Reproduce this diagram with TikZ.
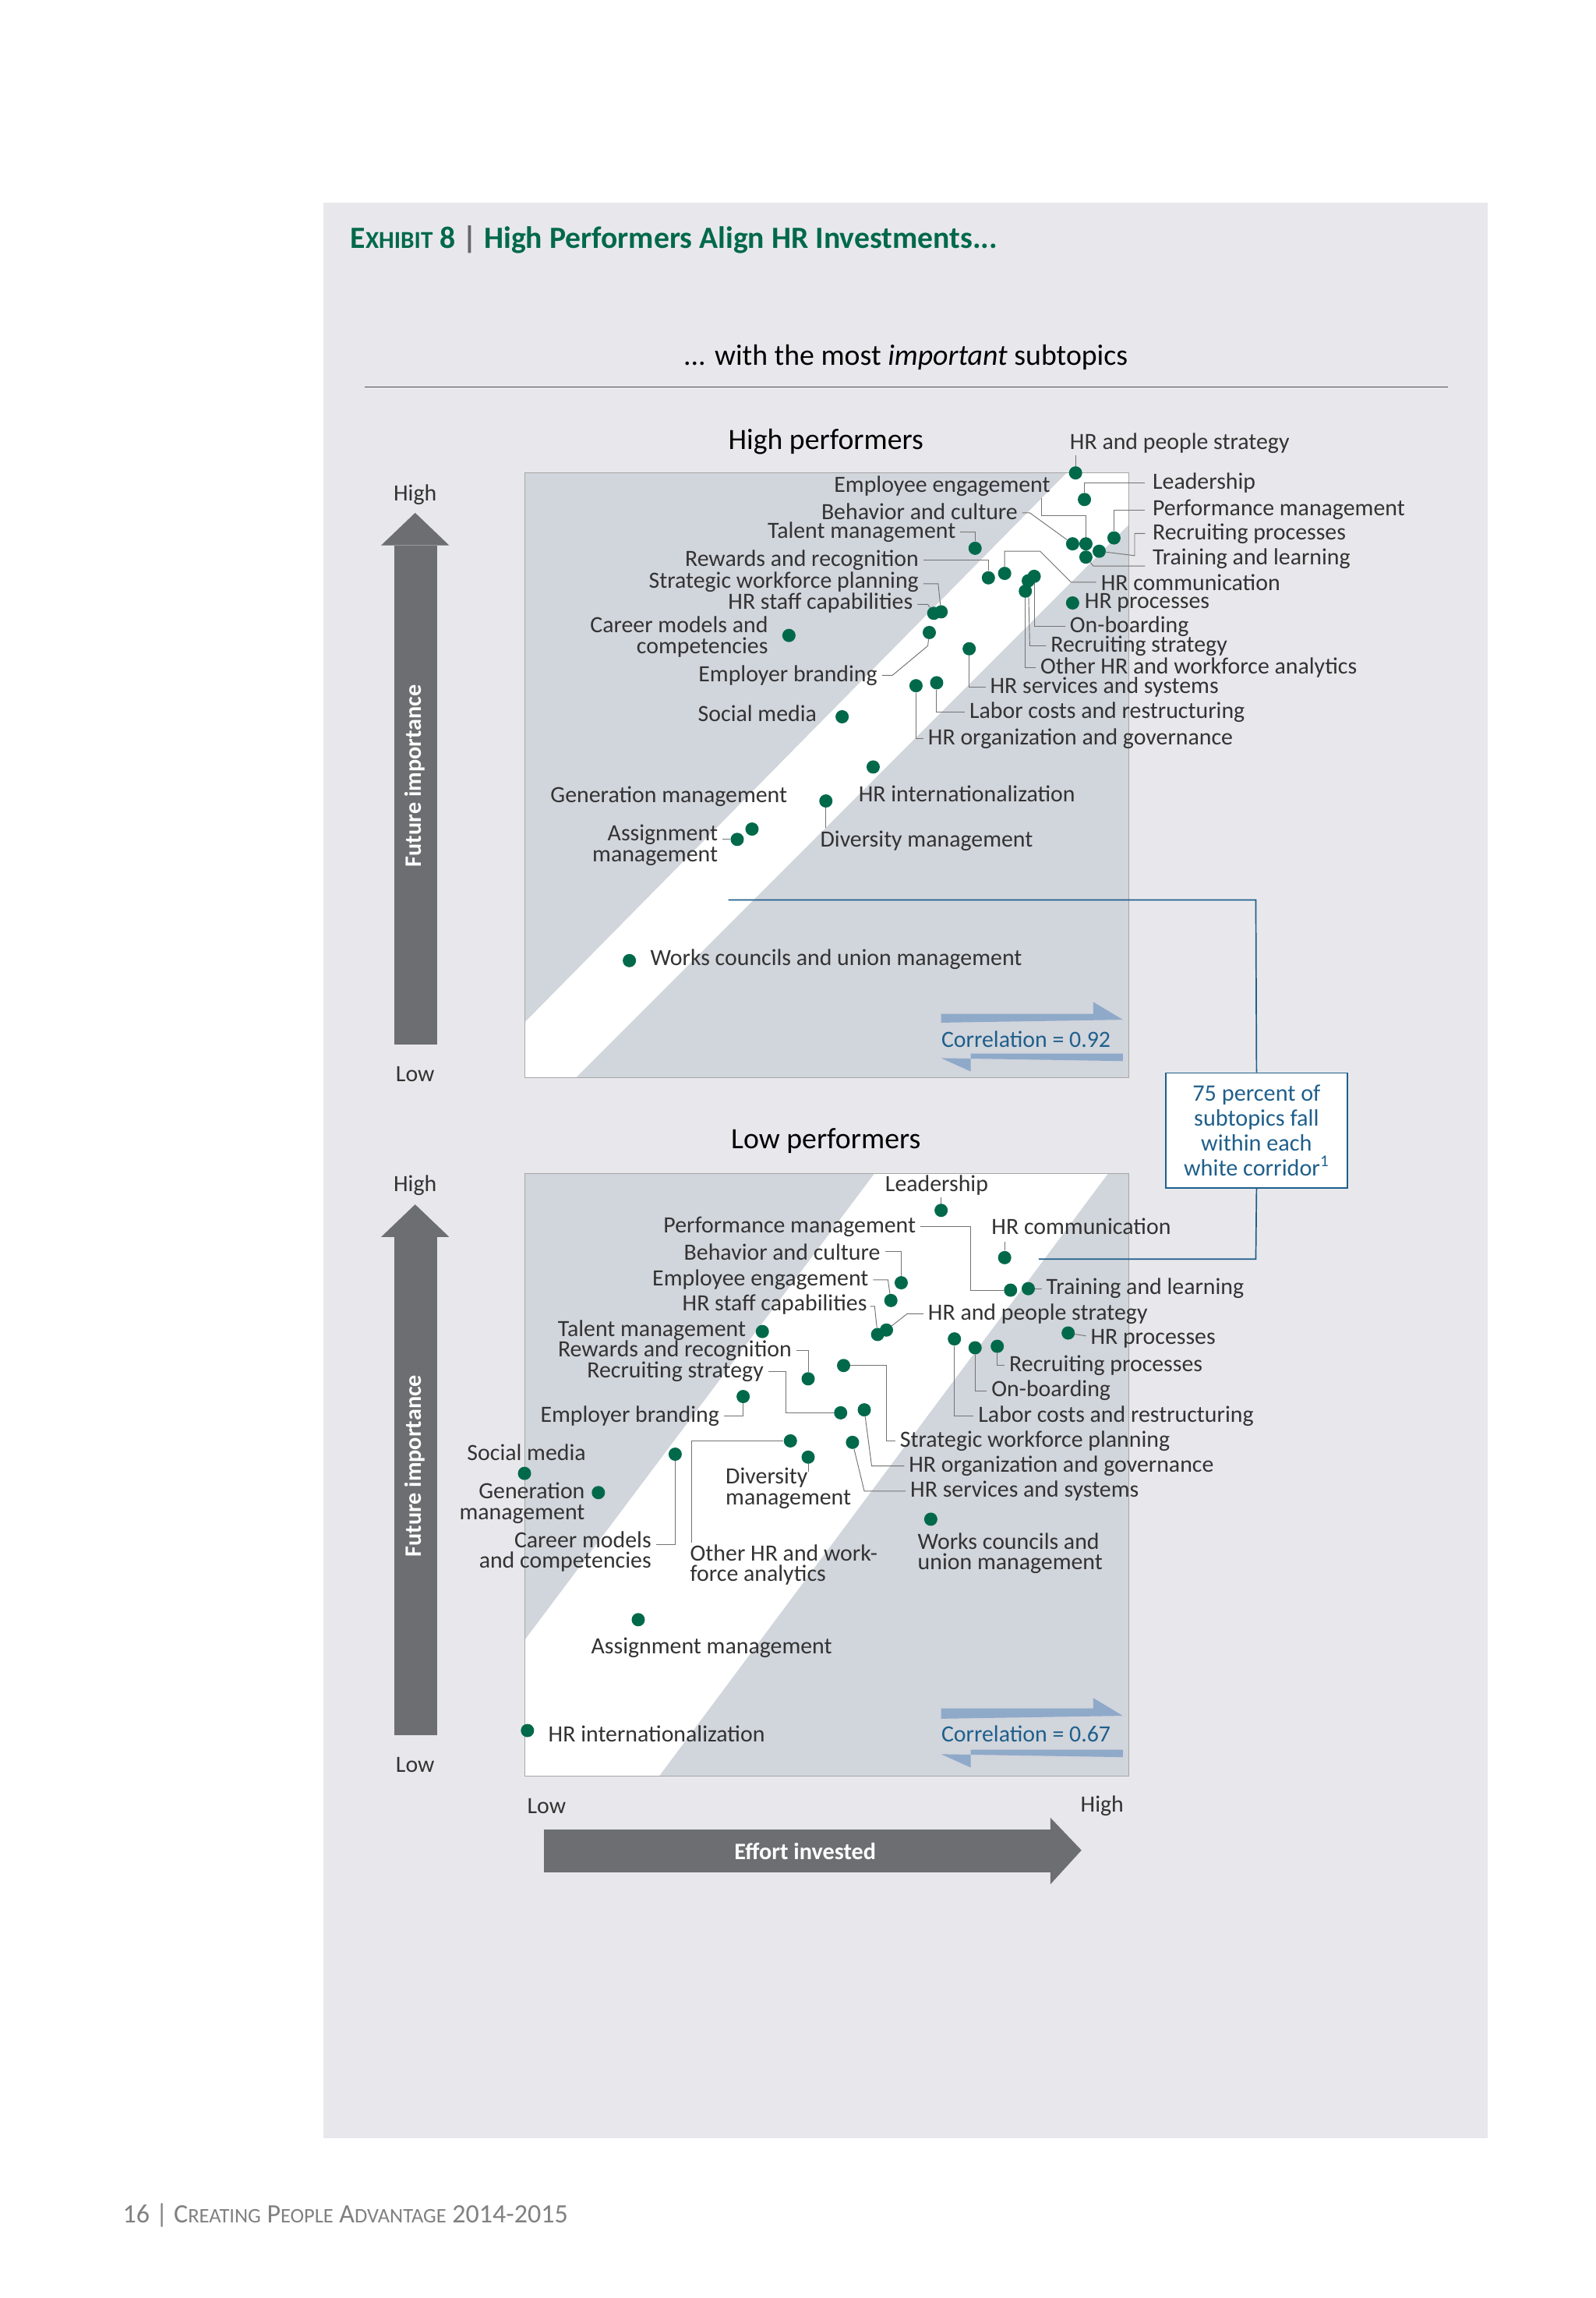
\documentclass[tikz,border=0pt]{standalone}
\usepackage{fontspec}
\setmainfont{Carlito}
\begin{document}
\begin{tikzpicture}[x=1bp,y=-1bp,
  lbl/.style={inner sep=0pt,font=\fontsize{15.8}{14}\selectfont,text=black!80},
  lw/.style={lbl,anchor=west},
  le/.style={lbl,anchor=east},
  ml/.style={lbl,align=left},
  mr/.style={lbl,align=right},
  pt/.style={circle,fill=dotgreen,inner sep=0pt,minimum size=9pt},
  ldr/.style={draw=black!55,line width=0.5pt},
  blu/.style={draw=boxblue,line width=0.9pt},
  axis/.style={fill=axgray,draw=none}]
\definecolor{dotgreen}{HTML}{00694A}
\definecolor{boxblue}{HTML}{1F5F8B}
\definecolor{axgray}{HTML}{6D6E71}
\definecolor{plotfill}{HTML}{D1D5DC}
\definecolor{panel}{HTML}{E8E8EC}
\definecolor{arrblue}{HTML}{8FA9C9}
\useasboundingbox (0,0) rectangle (1080,1555);
\fill[white] (0,0) rectangle (1080,1555);
\fill[panel] (219,137) rectangle (1007,1447);
% titles
\node[anchor=west,inner sep=0pt,text=dotgreen,font=\fontsize{21}{22}\selectfont\bfseries] (title) at (237,162) {E{\fontsize{16.5}{16}\selectfont XHIBIT} 8 \textcolor{black!60}{|} High Performers Align HR Investments...};
\node[inner sep=0pt,font=\fontsize{20}{20}\selectfont] (sub) at (613,242) {... with the most \textit{important} subtopics};
\draw[black!70,line width=0.7pt] (247,262) -- (980,262);
\node[inner sep=0pt,font=\fontsize{20}{20}\selectfont] (hp) at (559,299) {High performers};
\node[inner sep=0pt,font=\fontsize{20}{20}\selectfont] (lp) at (559,772) {Low performers};
% plot panels
\fill[plotfill] (355,320) rectangle (764,729);
\fill[white] (355,692) -- (722,320) -- (764,320) -- (764,355) -- (390,729) -- (355,729) -- cycle;
\draw[black!35,line width=0.5pt] (355,320) rectangle (764,729);
\fill[plotfill] (355,794) rectangle (764,1202);
\fill[white] (355,1110) -- (592,794) -- (750,794) -- (446,1202) -- (355,1202) -- cycle;
\draw[black!35,line width=0.5pt] (355,794) rectangle (764,1202);
% axes
\fill[axis] (267,369) rectangle (296,707);
\fill[axis] (258,369) -- (281,347) -- (304,369) -- cycle;
\node[rotate=90,text=white,font=\fontsize{16}{16}\selectfont\bfseries,inner sep=0pt] (fi1) at (281,525) {Future importance};
\fill[axis] (267,837) rectangle (296,1174);
\fill[axis] (258,837) -- (281,815) -- (304,837) -- cycle;
\node[rotate=90,text=white,font=\fontsize{16}{16}\selectfont\bfseries,inner sep=0pt] (fi2) at (281,992) {Future importance};
\fill[axis] (368,1238) rectangle (711,1267);
\fill[axis] (711,1230) -- (732,1252) -- (711,1275) -- cycle;
\node[text=white,font=\fontsize{16}{16}\selectfont\bfseries,inner sep=0pt] (ef) at (545,1253) {Effort invested};
\node[lbl] (h1) at (281,335) {High};
\node[lbl] (l1) at (281,727) {Low};
\node[lbl] (h2) at (281,802) {High};
\node[lbl] (l2) at (281,1194) {Low};
\node[lbl] (lx) at (370,1222) {Low};
\node[lbl] (hx) at (746,1222) {High};
% correlation arrows
\fill[arrblue] (637,686) -- (740,686) -- (740,678) -- (760,690) -- (637,692) -- cycle;
\fill[arrblue] (760,713) -- (657,713) -- (657,725) -- (637,716) -- (760,718) -- cycle;
\node[lw,text=boxblue] (c1) at (637,703) {Correlation = 0.92};
\fill[arrblue] (637,1156) -- (740,1156) -- (740,1149) -- (760,1161) -- (637,1163) -- cycle;
\fill[arrblue] (760,1184) -- (657,1184) -- (657,1196) -- (637,1187) -- (760,1189) -- cycle;
\node[lw,text=boxblue] (c2) at (637,1173) {Correlation = 0.67};
% 75 percent box
\node[draw=boxblue,line width=0.9pt,fill=white,text=boxblue,align=center,inner sep=0pt,minimum width=123bp,minimum height=78bp,font=\fontsize{16}{17}\selectfont] (box) at (850.5,765) {75 percent of\\subtopics fall\\within each\\white corridor\textsuperscript{1}};
\coordinate (b1) at (493,609);
\coordinate (b2) at (703,852);
\draw[blu] (b1) -- (850,609) -- (box.north);
\draw[blu] (box.south) -- (850,852) -- (b2);
% ===== High performers =====
\node[pt] (a1) at (728,320) {}; \node[lw] (ta1) at (724,300) {HR and people strategy}; \draw[ldr] (a1) -- (728,308);
\node[pt] (a2) at (734,338) {}; \node[lw] (ta2) at (780,327) {Leadership}; \draw[ldr] (a2) |- (775,327);
\node[pt] (a3) at (735,368) {}; \node[le] (ta3) at (711,329) {Employee engagement}; \draw[ldr] (a3) -- (735,349) -- (705,349) -- (705,337);
\node[pt] (a4) at (726,368) {}; \node[le] (ta4) at (689,346) {Behavior and culture}; \draw[ldr] (a4) -- (697,347) -- (692,347);
\node[pt] (a5) at (660,371) {}; \node[le] (ta5) at (647,360) {Talent management}; \draw[ldr] (a5) |- (650,360);
\node[pt] (a6) at (754,364) {}; \node[lw] (ta6) at (780,345) {Performance management}; \draw[ldr] (a6) |- (775,345);
\node[pt] (a7) at (744,373) {}; \node[lw] (ta7) at (780,361) {Recruiting processes}; \draw[ldr] (a7) -- (768,376) |- (775,361);
\node[pt] (a8) at (735,377) {}; \node[lw] (ta8) at (780,378) {Training and learning}; \draw[ldr] (a8) -- (740,383) -- (775,383);
\node[pt] (a9) at (669,391) {}; \node[le] (ta9) at (622,379) {Rewards and recognition}; \draw[ldr] (a9) |- (625,379);
\node[pt] (a10) at (680,388) {}; \node[lw] (ta10) at (745,394) {HR communication}; \draw[ldr] (a10) -- (680,373) -- (704,373) -- (725,394) -- (742,394);
\node[pt] (a11) at (637,414) {}; \node[le] (ta11) at (622,394) {Strategic workforce planning}; \draw[ldr] (a11) -- (635,395) -- (625,395);
\node[pt] (a12) at (632,415) {}; \node[le] (ta12) at (618,408) {HR staff capabilities}; \draw[ldr] (a12) -- (628,409) -- (621,409);
\node[pt] (a13) at (726,408) {}; \node[lw] (ta13) at (734,408) {HR processes};
\node[pt] (a14) at (700,390) {}; \node[lw] (ta14) at (724,424) {On-boarding}; \draw[ldr] (a14) |- (721,424);
\node[pt] (a15) at (696,393) {}; \node[lw] (ta15) at (711,437) {Recruiting strategy}; \draw[ldr] (a15) -- (697,437) -- (708,437);
\node[pt] (a16) at (694,400) {}; \node[lw] (ta16) at (704,452) {Other HR and workforce analytics}; \draw[ldr] (a16) |- (701,452);
\node[pt] (a17) at (534,430) {}; \node[mr,anchor=east] (ta17) at (520,431) {Career models and\\competencies};
\node[pt] (a18) at (629,428) {}; \node[le] (ta18) at (594,457) {Employer branding}; \draw[ldr] (a18) -- (628,437) -- (604,457) -- (597,457);
\node[pt] (a19) at (656,439) {}; \node[lw] (ta19) at (670,465) {HR services and systems}; \draw[ldr] (a19) |- (667,465);
\node[pt] (a20) at (570,485) {}; \node[le] (ta20) at (553,483) {Social media};
\node[pt] (a21) at (634,462) {}; \node[lw] (ta21) at (656,482) {Labor costs and restructuring}; \draw[ldr] (a21) |- (653,482);
\node[pt] (a22) at (620,464) {}; \node[lw] (ta22) at (628,500) {HR organization and governance}; \draw[ldr] (a22) |- (625,500);
\node[pt] (a23) at (591,519) {}; \node[lw] (ta23) at (581,537) {HR internationalization};
\node[pt] (a24) at (559,542) {}; \node[lw] (ta24) at (555,569) {Diversity management}; \draw[ldr] (a24) -- (559,560);
\node[pt] (a25) at (509,561) {}; \node[le] (ta25) at (533,539) {Generation management};
\node[pt] (a26) at (499,568) {}; \node[mr,anchor=east] (ta26) at (486,572) {Assignment\\management}; \draw[ldr] (a26) -- (489,568);
\node[pt] (a27) at (426,650) {}; \node[lw] (ta27) at (440,649) {Works councils and union management};
% ===== Low performers =====
\node[pt] (b1d) at (637,819) {}; \node[lw] (tb1) at (599,802) {Leadership}; \draw[ldr] (b1d) -- (637,810);
\node[pt] (b2d) at (684,873) {}; \node[le] (tb2) at (620,830) {Performance management}; \draw[ldr] (b2d) -- (657,873) -- (657,830) -- (623,830);
\node[pt] (b3d) at (680,851) {}; \node[lw] (tb3) at (671,830) {HR communication}; \draw[ldr] (b3d) -- (680,840);
\node[pt] (b4d) at (610,868) {}; \node[le] (tb4) at (596,847) {Behavior and culture}; \draw[ldr] (b4d) |- (599,847);
\node[pt] (b5d) at (603,880) {}; \node[le] (tb5) at (588,866) {Employee engagement}; \draw[ldr] (b5d) -- (601,866) -- (591,866);
\node[pt] (b6d) at (696,872) {}; \node[lw] (tb6) at (708,872) {Training and learning}; \draw[ldr] (b6d) -- (705,872);
\node[pt] (b7d) at (594,903) {}; \node[le] (tb7) at (587,883) {HR staff capabilities}; \draw[ldr] (b7d) -- (592,884) -- (589,884);
\node[pt] (b8d) at (600,900) {}; \node[lw] (tb8) at (628,889) {HR and people strategy}; \draw[ldr] (b8d) -- (614,889) -- (625,889);
\node[pt] (b9d) at (516,901) {}; \node[le] (tb9) at (505,900) {Talent management};
\node[pt] (b10d) at (723,902) {}; \node[lw] (tb10) at (738,906) {HR processes}; \draw[ldr] (b10d) -- (735,904);
\node[pt] (b11d) at (547,933) {}; \node[le] (tb11) at (536,914) {Rewards and recognition}; \draw[ldr] (b11d) |- (539,914);
\node[pt] (b12d) at (675,911) {}; \node[lw] (tb12) at (683,924) {Recruiting processes}; \draw[ldr] (b12d) |- (680,924);
\node[pt] (b13d) at (660,912) {}; \node[lw] (tb13) at (671,941) {On-boarding}; \draw[ldr] (b13d) |- (668,941);
\node[pt] (b14d) at (646,906) {}; \node[lw] (tb14) at (662,958) {Labor costs and restructuring}; \draw[ldr] (b14d) |- (659,958);
\node[pt] (b15d) at (569,956) {}; \node[le] (tb15) at (517,928) {Recruiting strategy}; \draw[ldr] (b15d) -- (532,956) -- (532,928) -- (520,928);
\node[pt] (b16d) at (571,924) {}; \node[lw] (tb16) at (609,975) {Strategic workforce planning}; \draw[ldr] (b16d) -- (600,924) -- (600,975) -- (606,975);
\node[pt] (b17d) at (503,945) {}; \node[le] (tb17) at (487,958) {Employer branding}; \draw[ldr] (b17d) |- (490,958);
\node[pt] (b18d) at (585,954) {}; \node[lw] (tb18) at (615,992) {HR organization and governance}; \draw[ldr] (b18d) -- (590,992) -- (612,992);
\node[pt] (b19d) at (577,976) {}; \node[lw] (tb19) at (616,1009) {HR services and systems}; \draw[ldr] (b19d) -- (585,1009) -- (613,1009);
\node[pt] (b20d) at (355,997) {}; \node[lw] (tb20) at (316,983) {Social media};
\node[pt] (b21d) at (405,1010) {}; \node[mr,anchor=east] (tb21) at (396,1017) {Generation\\management};
\node[pt] (b22d) at (457,984) {}; \node[mr,anchor=east] (tb22) at (441,1050) {Career models\\and competencies}; \draw[ldr] (b22d) |- (444,1045);
\node[pt] (b23d) at (547,986) {}; \node[ml,anchor=west] (tb23) at (491,1007) {Diversity\\management}; \draw[ldr] (b23d) -- (547,996);
\node[pt] (b24d) at (535,975) {}; \node[ml,anchor=west] (tb24) at (467,1059) {Other HR and work-\\force analytics}; \draw[ldr] (b24d) -- (468,975) -- (468,1044);
\node[pt] (b25d) at (630,1028) {}; \node[ml,anchor=west] (tb25) at (621,1051) {Works councils and\\union management};
\node[pt] (b26d) at (432,1096) {}; \node[lw] (tb26) at (400,1115) {Assignment management};
\node[pt] (b27d) at (357,1171) {}; \node[lw] (tb27) at (371,1173) {HR internationalization};
% footer
\node[anchor=west,inner sep=0pt,text=black!50,font=\fontsize{18}{18}\selectfont] (foot) at (83,1499) {16 | C{\fontsize{14}{14}\selectfont REATING} P{\fontsize{14}{14}\selectfont EOPLE} A{\fontsize{14}{14}\selectfont DVANTAGE} 2014-2015};
\end{tikzpicture}
\end{document}
